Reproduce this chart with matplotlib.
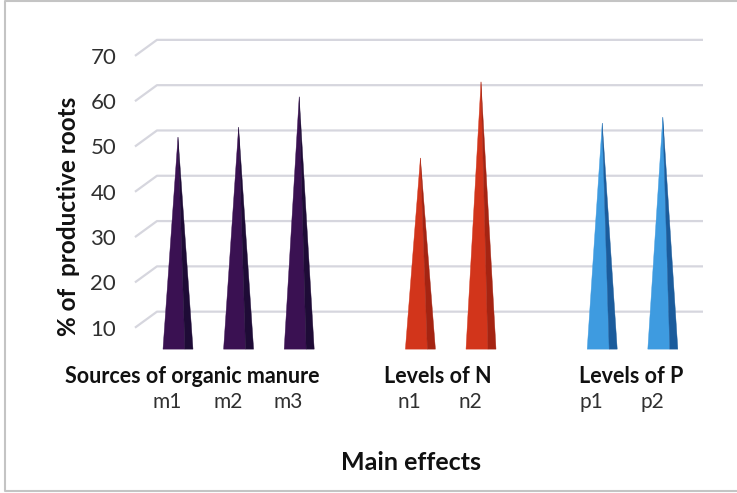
import matplotlib
matplotlib.use("Agg")
import matplotlib.pyplot as plt
from matplotlib.patches import Polygon
from matplotlib.lines import Line2D

# ---- data -------------------------------------------------------------
groups = ["Sources of organic manure", "Levels of N", "Levels of P"]
levels = [["m1", "m2", "m3"], ["n1", "n2"], ["p1", "p2"]]
values = [[50.3, 52.5, 59.2], [45.7, 62.5], [53.4, 54.7]]
y_ticks = [10, 20, 30, 40, 50, 60, 70]
y_label = "% of  productive roots"
x_label = "Main effects"

# ---- style ------------------------------------------------------------
face_colors = [("#3a1152", "#1e0b36"),
               ("#d2351b", "#a52412"),
               ("#3e9be0", "#1b5c9c")]
grid_color = "#d6d6de"
FONT = "Lato"
FLOOR = 3.5          # value at which the pyramids stand
DEPTH = 1.77         # half depth of the 3-D box, in value units
HALF_W = 0.2475      # half base width of a pyramid, in category units
SPLIT = 0.115        # where the lit face meets the shaded face

W, H, DPI = 737, 493, 100
fig = plt.figure(figsize=(W / DPI, H / DPI), dpi=DPI)
fig.patch.set_facecolor("white")
ax = fig.add_axes([0, 0, 1, 1])
ax.set_xlim(-2.937, 9.224)
ax.set_ylim(-28.26, 80.57)
ax.axis("off")

# category slots: each group followed by one empty slot
positions = []
k = 0
for g, lv in enumerate(levels):
    positions.append(list(range(k, k + len(lv))))
    k += len(lv) + 1
x_back_left, x_back_right, x_front_left = -0.347, 8.663, -0.71

# back-wall gridlines with the receding side-wall segment
for t in y_ticks:
    ax.add_line(Line2D([x_front_left, x_back_left, x_back_right],
                       [t - DEPTH, t + DEPTH, t + DEPTH],
                       color=grid_color, lw=1.6, zorder=1,
                       solid_capstyle="butt"))
    ax.text(-1.02, t - 2.2, str(t), ha="right", va="center",
            fontsize=16, family=FONT, color="#303030")

# pyramids
for g, lv in enumerate(levels):
    light, dark = face_colors[g]
    for x, v, name in zip(positions[g], values[g], lv):
        ax.add_patch(Polygon([(x - HALF_W, FLOOR), (x + SPLIT, FLOOR), (x, v)],
                             closed=True, fc=light, ec=light, lw=0.3, zorder=3))
        ax.add_patch(Polygon([(x + SPLIT, FLOOR), (x + HALF_W, FLOOR), (x, v)],
                             closed=True, fc=dark, ec=dark, lw=0.3, zorder=3))
        ax.text(x - 0.18, -8.17, name, ha="center", va="center",
                fontsize=15, family=FONT, color="#303030")

# group captions
group_x = [0.231, 4.29, 7.475]
for gx, name in zip(group_x, groups):
    ax.text(gx, -2.65, name, ha="center", va="center", fontsize=15.5,
            fontweight="bold", family=FONT, color="#111111")

ax.text(3.845, -21.63, x_label, ha="center", va="center", fontsize=18,
        fontweight="bold", family=FONT, color="#111111")
ax.text(-1.80, 32.9, y_label, ha="center", va="center", rotation=90,
        fontsize=17.5, fontweight="bold", family=FONT, color="#111111")

# chart frame
frame = Line2D([736 / W, 5 / W, 5 / W, 736 / W], [1 - 1 / H, 1 - 1 / H, 2 / H, 2 / H],
               transform=fig.transFigure, color="#c4c4c4", lw=1.5)
fig.add_artist(frame)

fig.savefig("out.png", dpi=DPI, facecolor="white")
